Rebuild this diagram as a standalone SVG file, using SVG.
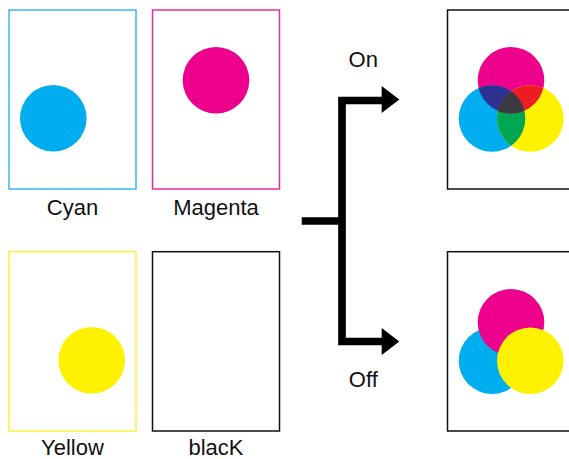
<svg xmlns="http://www.w3.org/2000/svg" width="569" height="459" viewBox="0 0 569 459">
<defs>
<style>
text{font-family:"Liberation Sans",Arial,sans-serif;font-size:22px;fill:#111;text-anchor:middle}
.box{fill:#fff;stroke-width:1.5}
.c{fill:#00AEEF}.m{fill:#EC008C}.y{fill:#FFF200}
.wire{fill:none;stroke:#000;stroke-width:7.7;stroke-linejoin:miter}
.head{fill:#000}
</style>
<clipPath id="cT"><circle cx="492" cy="118.5" r="33.3"/></clipPath>
<clipPath id="mT"><circle cx="511" cy="80.3" r="33.3"/></clipPath>
<clipPath id="mcT" clip-path="url(#cT)"><circle cx="511" cy="80.3" r="33.3"/></clipPath>
</defs>
<rect width="569" height="459" fill="#fff"/>
<g id="cyan">
<rect class="box" x="9" y="10" width="127" height="179" stroke="#3BB6EA"/>
<circle class="c" cx="53.3" cy="118.3" r="33.3"/>
<text x="72.5" y="215">Cyan</text>
</g>
<g id="magenta">
<rect class="box" x="152.5" y="10" width="127" height="179" stroke="#EC2A94"/>
<circle class="m" cx="216" cy="80.3" r="33.3"/>
<text x="216" y="215">Magenta</text>
</g>
<g id="yellow">
<rect class="box" x="9" y="251.7" width="127" height="179.3" stroke="#FFF23A"/>
<circle class="y" cx="91.7" cy="360.3" r="33.3"/>
<text x="72.5" y="455">Yellow</text>
</g>
<g id="black">
<rect class="box" x="152.5" y="251.7" width="127" height="179.3" stroke="#111"/>
<text x="216" y="455">blacK</text>
</g>
<g id="connectors">
<path class="wire" d="M301.7 221H342M382 341.5H342V100.5H382"/>
<path class="head" d="M381.7 86L399.3 99.5L381.7 113Z"/>
<path class="head" d="M381.7 328L399.3 341.5L381.7 355Z"/>
<text x="363.3" y="66.5">On</text>
<text x="363.3" y="386.5">Off</text>
</g>
<g id="on">
<rect class="box" x="447.5" y="10" width="130" height="179" stroke="#111"/>
<circle class="m" cx="511" cy="80.3" r="33.3"/>
<circle class="c" cx="492" cy="118.5" r="33.3"/>
<circle class="y" cx="530.3" cy="118.5" r="33.3"/>
<g clip-path="url(#cT)"><circle cx="511" cy="80.3" r="33.3" fill="#2E3192"/><circle cx="530.3" cy="118.5" r="33.3" fill="#00A651"/></g>
<g clip-path="url(#mT)"><circle cx="530.3" cy="118.5" r="33.3" fill="#ED1C24"/></g>
<g clip-path="url(#mcT)"><circle cx="530.3" cy="118.5" r="33.3" fill="#3A3A42"/></g>
</g>
<g id="off">
<rect class="box" x="447.5" y="251.7" width="130" height="179.3" stroke="#111"/>
<circle class="c" cx="492" cy="360.7" r="33.3"/>
<circle class="m" cx="511" cy="322.3" r="33.3"/>
<circle class="y" cx="530.3" cy="360.7" r="33.3"/>
</g>
</svg>
